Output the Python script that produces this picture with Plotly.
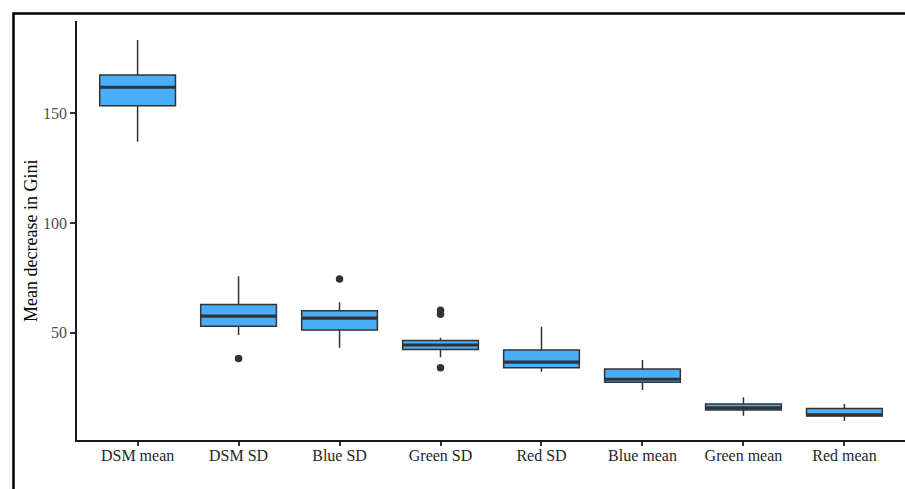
import plotly.graph_objects as go

categories = ["DSM mean", "DSM SD", "Blue SD", "Green SD", "Red SD",
              "Blue mean", "Green mean", "Red mean"]
upper_whisker = [183.4, 75.8, 63.9, 47.7, 52.7, 37.6, 20.6, 17.5]
q3_values = [167.5, 62.9, 60.0, 46.4, 42.1, 33.5, 17.5, 15.5]
median_values = [161.9, 57.6, 56.7, 44.4, 36.6, 28.8, 15.7, 12.6]
q1_values = [153.5, 52.9, 51.2, 42.4, 34.0, 27.4, 14.8, 12.0]
lower_whisker = [137.1, 49.0, 43.2, 38.8, 32.2, 23.9, 12.2, 9.8]
outlier_categories = ["DSM SD", "Blue SD", "Green SD", "Green SD", "Green SD"]
outlier_values = [38.2, 74.5, 60.3, 58.4, 34.0]
y_ticks = [50, 100, 150]
y_title = "Mean decrease in Gini"

W, H = 905, 489
ML, MR, MT, MB = 77, 0, 21, 49
BOX_W = 0.75
FONT = "Liberation Serif, Times New Roman, serif"

idx = list(range(len(categories)))
pos = {c: i for i, c in enumerate(categories)}

fig = go.Figure()
fig.add_trace(go.Box(
    x=idx, q1=q1_values, median=median_values, q3=q3_values,
    lowerfence=lower_whisker, upperfence=upper_whisker,
    width=BOX_W, whiskerwidth=0,
    fillcolor="#4AAEFB", line=dict(color="#333333", width=1.5),
    boxpoints=False, showlegend=False, hoverinfo="skip",
))

mx, my = [], []
for i, m in zip(idx, median_values):
    mx += [i - BOX_W / 2, i + BOX_W / 2, None]
    my += [m, m, None]
fig.add_trace(go.Scatter(x=mx, y=my, mode="lines",
                         line=dict(color="#333333", width=3.2),
                         showlegend=False, hoverinfo="skip"))

fig.add_trace(go.Scatter(
    x=[pos[c] for c in outlier_categories], y=outlier_values, mode="markers",
    marker=dict(color="#333333", size=7.5), showlegend=False, hoverinfo="skip"))

pw = W - ML - MR
ph = H - MT - MB
fx0 = (13.5 - ML) / pw
fy1 = (H - MB - 13.5) / ph
fig.add_shape(type="rect", xref="paper", yref="paper",
              x0=fx0, x1=1.2, y0=-0.5, y1=fy1,
              line=dict(color="black", width=2.5), layer="above")

fig.add_annotation(text=y_title, xref="paper", yref="paper",
                   x=(31 - ML) / pw, y=(H - MB - 241) / ph,
                   xanchor="center", yanchor="middle", textangle=-90,
                   showarrow=False,
                   font=dict(size=18, color="black", family=FONT))

fig.update_layout(
    width=W, height=H,
    margin=dict(l=ML, r=MR, t=MT, b=MB),
    paper_bgcolor="white", plot_bgcolor="white",
    font=dict(family=FONT),
    xaxis=dict(range=[-0.6, len(categories) - 0.4], tickmode="array",
               tickvals=idx, ticktext=categories, showgrid=False, zeroline=False,
               showline=True, linecolor="#1a1a1a", linewidth=1.5,
               ticks="outside", ticklen=4, tickwidth=1.5, tickcolor="#333333",
               ticklabelstandoff=-4,
               tickfont=dict(size=16, color="#262626", family=FONT)),
    yaxis=dict(range=[1.1, 192.1], tickmode="array", tickvals=y_ticks,
               showgrid=False, zeroline=False,
               showline=True, linecolor="#1a1a1a", linewidth=1.5,
               ticks="outside", ticklen=5, tickwidth=1.5, tickcolor="#333333",
               tickfont=dict(size=16, color="#4d4d4d", family=FONT)),
)

fig.write_html("out.html")
